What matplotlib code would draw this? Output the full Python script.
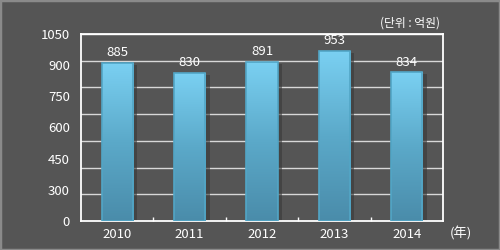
import matplotlib
matplotlib.use("Agg")
import matplotlib.pyplot as plt
import numpy as np
from matplotlib.colors import LinearSegmentedColormap
from matplotlib.patches import Rectangle

plt.rcParams['font.family'] = ['Noto Sans CJK KR', 'DejaVu Sans']

years = ['2010', '2011', '2012', '2013', '2014']
values = [885, 830, 891, 953, 834]
ytick_labels = ['0', '300', '450', '600', '750', '900', '1050']
grid_step = 150
ymax = 1050
unit_label = '(단위 : 억원)'
x_unit = '(年)'

bg = '#555555'
fig = plt.figure(figsize=(5, 2.5), dpi=100, facecolor=bg)
fig.patches.append(Rectangle((0, 0), 1, 1, transform=fig.transFigure,
                             fill=False, edgecolor='#8a8a8a', linewidth=2.5))
ax = fig.add_axes([81/500, 1-221/250, (443-81)/500, (221-34)/250])
ax.set_facecolor(bg)

x = np.arange(len(years))
width = 0.43

cmap = LinearSegmentedColormap.from_list('b', ['#4a8caa', '#5ba9c9', '#7ad0f2'])
grad = np.linspace(0, 1, 256).reshape(-1, 1)

for xi, v in zip(x, values):
    sh = Rectangle((xi - width/2 + 0.06, 0), width, v - 8, facecolor='#3a3a3a',
                   edgecolor='none', alpha=0.6, zorder=2)
    ax.add_patch(sh)
    r = Rectangle((xi - width/2, 0), width, v, facecolor='none',
                  edgecolor='#52a6c6', linewidth=1.2, zorder=4)
    ax.add_patch(r)
    im = ax.imshow(grad, extent=(xi - width/2, xi + width/2, 0, v), origin='lower',
                   cmap=cmap, aspect='auto', zorder=3)
    im.set_clip_path(r)
    ax.text(xi, v + 22, str(v), ha='center', va='bottom', color='white', fontsize=9.5,
            zorder=5)

ax.set_aspect('auto')
ax.set_xlim(-0.5, len(years) - 0.5)
ax.set_ylim(0, ymax)

# tick labels are spread evenly over the axis (as in the original), gridlines every 150
ax.set_yticks(np.linspace(0, ymax, len(ytick_labels)))
ax.set_yticklabels(ytick_labels, color='white', fontsize=9.5)
ax.set_xticks(x)
ax.set_xticklabels(years, color='white', fontsize=9.5)
ax.tick_params(axis='y', length=0, pad=8)
ax.tick_params(axis='x', length=0, pad=5)
ax.set_xticks(np.arange(0.5, len(years) - 0.5, 1), minor=True)
ax.tick_params(axis='x', which='minor', direction='in', length=3, color='white', width=1)

for t in np.arange(grid_step, ymax + 1, grid_step):
    ax.axhline(t, color='#d8d8d8' if t < ymax else 'white', linewidth=1, zorder=1)

for s in ['left', 'bottom', 'right', 'top']:
    ax.spines[s].set_color('white')
    ax.spines[s].set_linewidth(1.3)

fig.text(440/500, 1-23/250, unit_label, ha='right', va='center', color='white', fontsize=8.5)
fig.text(450/500, 1-233/250, x_unit, ha='left', va='center', color='white', fontsize=9.5)

fig.savefig('out.png', dpi=100, facecolor=bg)
